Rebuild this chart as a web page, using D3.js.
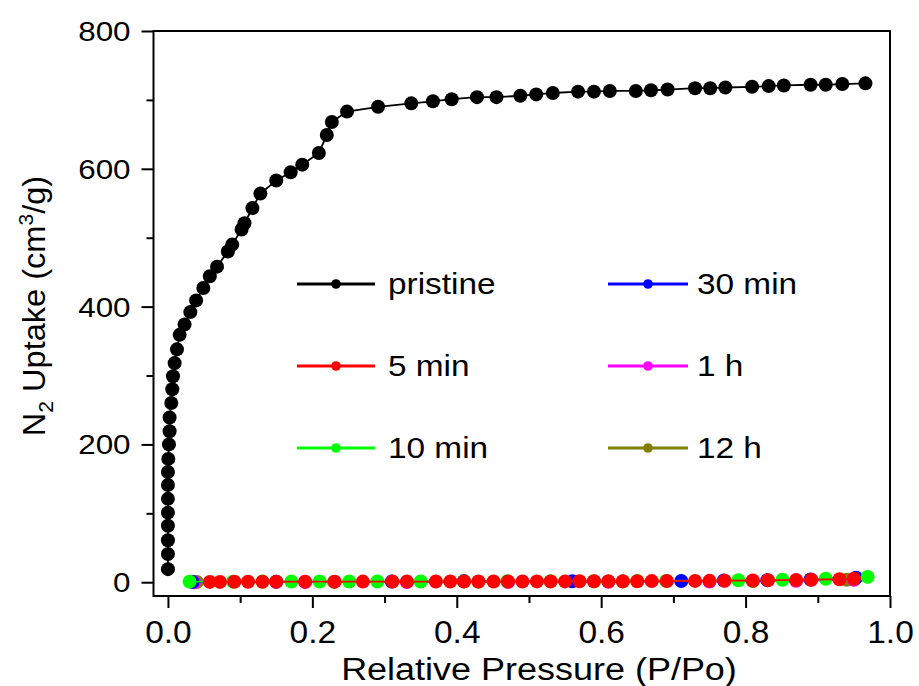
<!DOCTYPE html>
<html>
<head>
<meta charset="utf-8">
<script src="https://cdn.jsdelivr.net/npm/d3@7"></script>
<style>
  html, body { margin: 0; padding: 0; background: #fff; }
  svg { display: block; font-family: Arial, "Liberation Sans", sans-serif; }
</style>
</head>
<body>
<div id="chart"></div>
<script>
// N2 uptake isotherms — pristine vs. exposure times

const pristineX = [0, 0, 0, 0, 0, 0, 0, 0, 0.0005, 0.0014, 0.0023, 0.0023, 0.0046, 0.006, 0.007, 0.0093, 0.0125, 0.0162,
  0.023, 0.031, 0.039, 0.049, 0.058, 0.068, 0.083, 0.089, 0.102, 0.106, 0.117, 0.128, 0.150, 0.170, 0.186, 0.209,
  0.220, 0.227, 0.248, 0.291, 0.337, 0.367, 0.393, 0.428, 0.455, 0.488, 0.510, 0.533, 0.568, 0.590, 0.612, 0.648,
  0.669, 0.692, 0.730, 0.751, 0.772, 0.809, 0.832, 0.853, 0.890, 0.911, 0.934, 0.966];
const pristineY = [19, 41, 61, 82, 101, 121, 141, 160, 179, 200, 219, 239, 260, 280, 299, 318, 338, 359,
  374, 392, 409, 427, 444, 458, 480, 490, 512, 521, 543, 564, 583, 595, 606, 623,
  649, 668, 683, 690, 695, 698, 701, 704, 704, 706, 708, 710, 712, 712, 713, 713,
  714, 715, 717, 717, 718, 719, 720, 721, 722, 722, 723, 724];

const min5X = [0.058, 0.072, 0.092, 0.111, 0.131, 0.150, 0.190, 0.231, 0.270, 0.311, 0.331, 0.371, 0.391, 0.410, 0.430,
  0.451, 0.471, 0.491, 0.511, 0.530, 0.550, 0.570, 0.590, 0.610, 0.630, 0.650, 0.670, 0.691, 0.730, 0.750, 0.771,
  0.810, 0.831, 0.870, 0.891, 0.930, 0.950];
const min5Y = [0.5, 0.5, 0.6, 0.6, 0.7, 0.7, 0.8, 0.8, 0.9, 0.9, 0.9, 1.0, 1.0, 1.0, 1.0,
  1.1, 1.1, 1.1, 1.2, 1.2, 1.2, 1.3, 1.3, 1.4, 1.4, 1.5, 1.6, 1.7, 1.9, 2.0, 2.2,
  2.5, 2.8, 3.3, 3.6, 4.4, 5.1];

const min10X = [0.030, 0.090, 0.131, 0.171, 0.210, 0.251, 0.290, 0.350, 0.410, 0.470, 0.530, 0.590, 0.650, 0.690,
  0.790, 0.851, 0.911, 0.969];
const min10Y = [0.8, 0.8, 0.9, 0.9, 1.0, 1.0, 1.0, 1.1, 1.2, 1.3, 1.4, 1.5, 1.7, 1.9, 2.8, 3.6, 5.0, 7.7];

const min30X = [0.034, 0.150, 0.310, 0.410, 0.560, 0.711, 0.770, 0.830, 0.890, 0.953];
const min30Y = [0.5, 0.7, 0.9, 1.6, 1.4, 1.8, 2.4, 3.0, 4.0, 6.5];

const h1X = [0.036, 0.190, 0.331, 0.471, 0.610, 0.750, 0.870, 0.950];
const h1Y = [0.0, 0.2, 0.3, 0.4, 0.6, 1.0, 2.0, 3.5];

const h12X = [0.040, 0.230, 0.430, 0.630, 0.810, 0.940];
const h12Y = [0.3, 0.5, 0.7, 0.9, 1.8, 3.5];

const seriesNames = ['pristine', '5 min', '10 min', '30 min', '1 h', '12 h'];
const seriesColors = ['#000000', '#ff0000', '#00ff00', '#0000ff', '#ff00ff', '#808000'];

const xMajor = [0, 0.2, 0.4, 0.6, 0.8, 1.0];
const xMinor = [0.1, 0.3, 0.5, 0.7, 0.9];
const yMajor = [0, 200, 400, 600, 800];
const yMinor = [100, 300, 500, 700];

const W = 919, H = 686;
const plot = { left: 153.5, right: 890, top: 31, bottom: 596 };

const x = d3.scaleLinear().domain([-0.02, 1.0]).range([plot.left, plot.right]);
const y = d3.scaleLinear().domain([-20, 800]).range([plot.bottom, plot.top]);

const svg = d3.select('#chart').append('svg')
  .attr('width', W).attr('height', H)
  .attr('viewBox', `0 0 ${W} ${H}`);

// the reference type is a bit wider than Arial, so text gets stretched
function stretch(sel, k) {
  sel.each(function () {
    const len = this.getComputedTextLength();
    d3.select(this).attr('textLength', len * k).attr('lengthAdjust', 'spacingAndGlyphs');
  });
}

const zip = (xs, ys) => xs.map((v, i) => [v, ys[i]]);
const series = [
  zip(pristineX, pristineY), zip(min5X, min5Y), zip(min10X, min10Y),
  zip(min30X, min30Y), zip(h1X, h1Y), zip(h12X, h12Y),
];

// Axes
const xAxis = svg.append('g').attr('transform', `translate(0,${plot.bottom})`)
  .call(d3.axisBottom(x).tickValues(xMajor).tickSize(12).tickPadding(10).tickFormat(d3.format('.1f')));
svg.append('g').attr('transform', `translate(0,${plot.bottom})`)
  .call(d3.axisBottom(x).tickValues(xMinor).tickSize(7).tickFormat(''));
const yAxis = svg.append('g').attr('transform', `translate(${plot.left},0)`)
  .call(d3.axisLeft(y).tickValues(yMajor).tickSize(12).tickPadding(11));
svg.append('g').attr('transform', `translate(${plot.left},0)`)
  .call(d3.axisLeft(y).tickValues(yMinor).tickSize(7).tickFormat(''));

svg.selectAll('.domain').remove();
svg.selectAll('.tick line').attr('stroke', '#000').attr('stroke-width', 2);
xAxis.selectAll('text').attr('font-size', 31).attr('fill', '#000')
  .attr('y', 0).attr('dy', 0).attr('transform', 'translate(0,47)');
yAxis.selectAll('text').attr('font-size', 28).attr('fill', '#000').attr('dy', '0.34em');
stretch(xAxis.selectAll('text'), 1.08);
stretch(yAxis.selectAll('text'), 1.12);

// Frame
svg.append('rect')
  .attr('x', plot.left).attr('y', plot.top)
  .attr('width', plot.right - plot.left).attr('height', plot.bottom - plot.top)
  .attr('fill', 'none').attr('stroke', '#000').attr('stroke-width', 2);

// Series: drawn bottom-up so red sits on top of the flat curves
const line = d3.line().x(d => x(d[0])).y(d => y(d[1]));
const drawOrder = [5, 4, 3, 2, 1, 0];
for (const i of drawOrder) {
  const g = svg.append('g');
  g.append('path').datum(series[i])
    .attr('fill', 'none').attr('stroke', seriesColors[i]).attr('stroke-width', 1.8)
    .attr('d', line);
  g.selectAll('circle').data(series[i]).enter().append('circle')
    .attr('cx', d => x(d[0])).attr('cy', d => y(d[1])).attr('r', 7)
    .attr('fill', seriesColors[i]);
}

// Legend
const legCols = [{ x0: 297, x1: 375, text: 388 }, { x0: 608, x1: 688, text: 697 }];
const legRows = [284, 366, 448];
seriesNames.forEach((name, i) => {
  const col = legCols[Math.floor(i / 3)];
  const ry = legRows[i % 3];
  const g = svg.append('g');
  g.append('line').attr('x1', col.x0).attr('x2', col.x1).attr('y1', ry).attr('y2', ry)
    .attr('stroke', seriesColors[i]).attr('stroke-width', 3);
  g.append('circle').attr('cx', (col.x0 + col.x1) / 2).attr('cy', ry).attr('r', 4.8)
    .attr('fill', seriesColors[i]);
  const t = g.append('text').attr('x', col.text).attr('y', ry + 10)
    .attr('font-size', 29).attr('fill', '#000').text(name);
  stretch(t, 1.15);
});

// Axis titles
const xt = svg.append('text').attr('x', 539).attr('y', 680).attr('text-anchor', 'middle')
  .attr('font-size', 31).attr('fill', '#000').text('Relative Pressure (P/Po)');
stretch(xt, 1.16);

const yt = svg.append('text').attr('transform', 'translate(45,306) rotate(-90)')
  .attr('text-anchor', 'middle').attr('font-size', 31).attr('fill', '#000');
yt.append('tspan').text('N');
yt.append('tspan').attr('font-size', 20).attr('dy', 8).text('2');
yt.append('tspan').attr('dy', -8).text(' Uptake (cm');
yt.append('tspan').attr('font-size', 20).attr('dy', -12).text('3');
yt.append('tspan').attr('dy', 12).text('/g)');
stretch(yt, 1.05);
</script>
</body>
</html>
